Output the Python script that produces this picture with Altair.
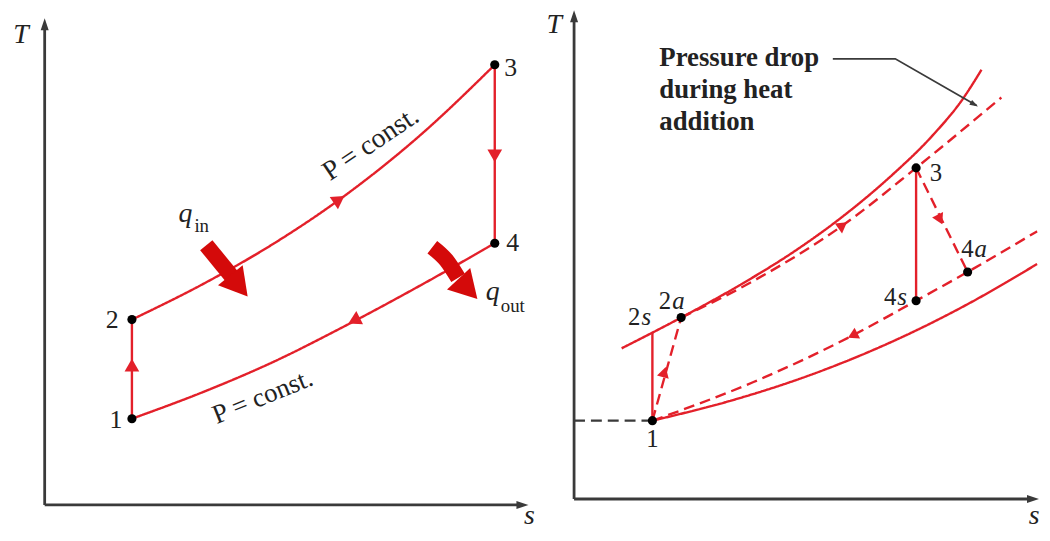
import altair as alt
import pandas as pd

RED = "#e3202a"
DARK_RED = "#d40a0a"
AXIS = "#3a3a3a"
SERIF = "Liberation Serif, Times New Roman, serif"
ARROW_PATH = "M0,-1L0.45,0.35L-0.45,0.35Z"

# ======================= LEFT PANEL (ideal cycle) =======================
L_dom_s = [-37, 500]
L_dom_T = [-21, 499]

L_state_s = [88, 88, 454, 454]
L_state_T = [87, 187, 444, 264]
L_state_lbl = ["1", "2", "3", "4"]
L_lbl_s = [72, 68, 470, 472]
L_lbl_T = [86, 186, 441, 264]

L_high_s = [88, 160, 230, 300, 380, 454]
L_high_T = [187, 223, 263, 310, 374, 444]
L_low_s = [88, 160, 230, 300, 380, 454]
L_low_T = [87, 114, 144, 179, 222, 264]

L_seg_s = [88, 454]
L_seg_T1 = [87, 444]
L_seg_T2 = [187, 264]

L_flow_s = [88, 454, 297, 312]
L_flow_T = [141, 352, 308, 186]
L_flow_ang = [0, 180, 56, 243]

L_fat_name = ["in", "in", "out", "out", "out"]
L_fat_s = [163, 190, 391, 405, 417]
L_fat_T = [262, 229, 260, 247, 229]
L_head_s = [196, 427]
L_head_T = [221, 218]
L_head_ang = [141, 137]

L_axis_s1 = [0, 0]
L_axis_T1 = [0, 0]
L_axis_s2 = [0, 479]
L_axis_T2 = [482, 0]
L_axhead_ang = [0, 90]

# q symbols end at the given s, subscripts start there
L_q_s = [149, 459]
L_q_T = [285, 207]
L_sub_s = [151, 460]
L_sub_T = [275, 195]
L_sub_txt = ["in", "out"]

L_axlbl_s = [-24, 489]
L_axlbl_T = [466, -19]
L_axlbl_txt = ["T", "s"]

L_p_s = [329, 220]
L_p_T = [364, 109]

# ======================= RIGHT PANEL (actual cycle) =======================
R_dom_s = [-34, 469]
R_dom_T = [-27, 493]

R_state_s = [79, 108, 345, 345, 397]
R_state_T = [79, 183, 334, 200, 229]

R_hi_solid_s = [48, 108, 171, 221, 271, 321, 361, 391, 411]
R_hi_solid_T = [152, 183, 218, 249, 285, 327, 366, 402, 433]
R_hi_dash_s = [108, 181, 271, 345, 431]
R_hi_dash_T = [183, 220, 276, 334, 405]
R_lo_dash_s = [79, 181, 281, 345, 397, 467]
R_lo_dash_T = [79, 118, 165, 200, 229, 270]
R_lo_solid_s = [79, 161, 224, 294, 345, 396, 467]
R_lo_solid_T = [79, 100, 120, 147, 170, 196, 237]

R_seg_s1 = [79, 79, 345, 345]
R_seg_T1 = [79, 79, 334, 334]
R_seg_s2 = [79, 108, 345, 397]
R_seg_T2 = [168, 183, 200, 229]
R_seg_dash = ["solid", "dashed", "solid", "dashed"]

R_flow_s = [91, 271, 369, 281]
R_flow_T = [128, 276, 282, 165]
R_flow_ang = [16, 54, 154, 243]

# state labels: digit ends at the given s, italic letter starts there
R_one_s = [79]
R_one_T = [52]
R_dig_s = [67, 98, 325, 403]
R_dig_T = [176, 192, 196, 244]
R_dig_txt = ["2", "2", "4", "4"]
R_let_txt = ["s", "a", "s", "a"]
R_three_s = [365]
R_three_T = [321]

R_axis_s1 = [0, 0]
R_axis_T1 = [0, 0]
R_axis_s2 = [0, 460]
R_axis_T2 = [484, 0]
R_axhead_ang = [0, 90]

R_axlbl_s = [-20, 464]
R_axlbl_T = [470, -25]
R_axlbl_txt = ["T", "s"]

R_note_s = [86, 86, 86]
R_note_T = [437, 404, 372]
R_note_txt = ["Pressure drop", "during heat", "addition"]
R_leader_s = [261, 324, 406]
R_leader_T = [444, 444, 397]
R_leader_head = (402, 399, 120)

R_ref_s = [0, 79]
R_ref_T = [79, 79]


def enc(chart, ds, dt):
    return chart.encode(
        x=alt.X("s:Q", scale=alt.Scale(domain=ds, nice=False, zero=False), axis=None),
        y=alt.Y("T:Q", scale=alt.Scale(domain=dt, nice=False, zero=False), axis=None),
    )


def curve_df(parts):
    rows = []
    for name, ss, ts, dash in parts:
        for i, (a, b) in enumerate(zip(ss, ts)):
            rows.append({"curve": name, "s": a, "T": b, "o": i, "dash": dash})
    return pd.DataFrame(rows)


DASH = alt.StrokeDash("dash:N", scale=alt.Scale(domain=["solid", "dashed"], range=[[1, 0], [11, 6]]), legend=None)


def curves(df, ds, dt, width=2.4):
    return enc(alt.Chart(df).mark_line(color=RED, strokeWidth=width, interpolate="monotone"), ds, dt).encode(
        detail="curve:N", order="o:Q", strokeDash=DASH
    )


def rules(df, ds, dt, color=RED, width=2.4):
    return enc(alt.Chart(df).mark_rule(color=color, strokeWidth=width), ds, dt).encode(
        x2="s2:Q", y2="T2:Q", strokeDash=DASH
    )


def heads(df, ds, dt, size, color=RED, shape="triangle-up"):
    return enc(
        alt.Chart(df).mark_point(shape=shape, filled=True, size=size, color=color, opacity=1, strokeWidth=0),
        ds, dt,
    ).encode(angle=alt.Angle("ang:Q", scale=None))


def dots(df, ds, dt):
    return enc(alt.Chart(df).mark_circle(size=85, color="black", opacity=1), ds, dt)


def texts(df, ds, dt, **kw):
    base = dict(font=SERIF, color="#222222", align="center")
    base.update(kw)
    return enc(alt.Chart(df).mark_text(**base), ds, dt).encode(text="txt:N")


def axes(s1, t1, s2, t2, angs, ds, dt):
    ax = pd.DataFrame({"s": s1, "T": t1, "s2": s2, "T2": t2, "dash": ["solid", "solid"]})
    hd = pd.DataFrame({"s": s2, "T": t2, "ang": angs})
    return [rules(ax, ds, dt, color=AXIS, width=2.8), heads(hd, ds, dt, 324, color=AXIS, shape=ARROW_PATH)]


# ---------------- build left ----------------
ds, dt = L_dom_s, L_dom_T
L_layers = []
L_layers += axes(L_axis_s1, L_axis_T1, L_axis_s2, L_axis_T2, L_axhead_ang, ds, dt)
L_layers.append(curves(curve_df([("hi", L_high_s, L_high_T, "solid"), ("lo", L_low_s, L_low_T, "solid")]), ds, dt))
L_layers.append(rules(pd.DataFrame({"s": L_seg_s, "T": L_seg_T1, "s2": L_seg_s, "T2": L_seg_T2,
                                    "dash": ["solid", "solid"]}), ds, dt))
L_layers.append(heads(pd.DataFrame({"s": L_flow_s, "T": L_flow_T, "ang": L_flow_ang}), ds, dt, 220))
fat = pd.DataFrame({"curve": L_fat_name, "s": L_fat_s, "T": L_fat_T, "o": list(range(len(L_fat_s)))})
L_layers.append(enc(alt.Chart(fat).mark_line(color=DARK_RED, strokeWidth=16, strokeCap="butt",
                                             interpolate="monotone"), ds, dt).encode(detail="curve:N", order="o:Q"))
L_layers.append(heads(pd.DataFrame({"s": L_head_s, "T": L_head_T, "ang": L_head_ang}), ds, dt, 1024, color=DARK_RED))
L_layers.append(dots(pd.DataFrame({"s": L_state_s, "T": L_state_T}), ds, dt))
L_layers.append(texts(pd.DataFrame({"s": L_lbl_s, "T": L_lbl_T, "txt": L_state_lbl}), ds, dt,
                      fontSize=26, baseline="middle"))
L_layers.append(texts(pd.DataFrame({"s": L_q_s, "T": L_q_T, "txt": ["q", "q"]}), ds, dt,
                      fontSize=28, fontStyle="italic", baseline="alphabetic", align="right"))
L_layers.append(texts(pd.DataFrame({"s": L_sub_s, "T": L_sub_T, "txt": L_sub_txt}), ds, dt,
                      fontSize=19, baseline="alphabetic", align="left"))
L_layers.append(texts(pd.DataFrame({"s": L_axlbl_s, "T": L_axlbl_T, "txt": L_axlbl_txt}), ds, dt,
                      fontSize=28, fontStyle="italic", baseline="alphabetic"))
L_layers.append(texts(pd.DataFrame({"s": L_p_s[:1], "T": L_p_T[:1], "txt": ["P = const."]}), ds, dt,
                      fontSize=28, baseline="middle", angle=326))
L_layers.append(texts(pd.DataFrame({"s": L_p_s[1:], "T": L_p_T[1:], "txt": ["P = const."]}), ds, dt,
                      fontSize=27, baseline="middle", angle=338))
left = alt.layer(*L_layers).properties(width=537, height=520)

# ---------------- build right ----------------
ds, dt = R_dom_s, R_dom_T
R_layers = []
R_layers += axes(R_axis_s1, R_axis_T1, R_axis_s2, R_axis_T2, R_axhead_ang, ds, dt)
R_layers.append(rules(pd.DataFrame({"s": R_ref_s[:1], "T": R_ref_T[:1], "s2": R_ref_s[1:], "T2": R_ref_T[1:],
                                    "dash": ["dashed"]}), ds, dt, color=AXIS, width=2.2))
R_layers.append(curves(curve_df([
    ("hs", R_hi_solid_s, R_hi_solid_T, "solid"),
    ("hd", R_hi_dash_s, R_hi_dash_T, "dashed"),
    ("ld", R_lo_dash_s, R_lo_dash_T, "dashed"),
    ("ls", R_lo_solid_s, R_lo_solid_T, "solid"),
]), ds, dt))
R_layers.append(rules(pd.DataFrame({"s": R_seg_s1, "T": R_seg_T1, "s2": R_seg_s2, "T2": R_seg_T2,
                                    "dash": R_seg_dash}), ds, dt))
R_layers.append(heads(pd.DataFrame({"s": R_flow_s, "T": R_flow_T, "ang": R_flow_ang}), ds, dt, 150))
R_layers.append(dots(pd.DataFrame({"s": R_state_s, "T": R_state_T}), ds, dt))
R_layers.append(texts(pd.DataFrame({"s": R_one_s + R_three_s, "T": R_one_T + R_three_T, "txt": ["1", "3"]}),
                      ds, dt, fontSize=25, baseline="alphabetic"))
R_layers.append(texts(pd.DataFrame({"s": R_dig_s, "T": R_dig_T, "txt": R_dig_txt}), ds, dt,
                      fontSize=25, baseline="alphabetic", align="right"))
R_layers.append(texts(pd.DataFrame({"s": [v + 1 for v in R_dig_s], "T": R_dig_T, "txt": R_let_txt}), ds, dt,
                      fontSize=25, fontStyle="italic", baseline="alphabetic", align="left"))
R_layers.append(texts(pd.DataFrame({"s": R_axlbl_s, "T": R_axlbl_T, "txt": R_axlbl_txt}), ds, dt,
                      fontSize=28, fontStyle="italic", baseline="alphabetic"))
R_layers.append(texts(pd.DataFrame({"s": R_note_s, "T": R_note_T, "txt": R_note_txt}), ds, dt,
                      fontSize=27, fontWeight="bold", align="left", baseline="alphabetic"))
leader = pd.DataFrame({"curve": ["l"] * 3, "s": R_leader_s, "T": R_leader_T, "o": [0, 1, 2]})
R_layers.append(enc(alt.Chart(leader).mark_line(color=AXIS, strokeWidth=1.8), ds, dt).encode(order="o:Q"))
R_layers.append(heads(pd.DataFrame({"s": [R_leader_head[0]], "T": [R_leader_head[1]], "ang": [R_leader_head[2]]}),
                      ds, dt, 160, color=AXIS, shape=ARROW_PATH))
right = alt.layer(*R_layers).properties(width=503, height=520)

chart = (
    alt.hconcat(left, right, spacing=0)
    .resolve_scale(x="independent", y="independent")
    .properties(padding=0)
    .configure_view(stroke=None)
)
chart.save("out.html", embed_options={"renderer": "svg", "actions": False})
